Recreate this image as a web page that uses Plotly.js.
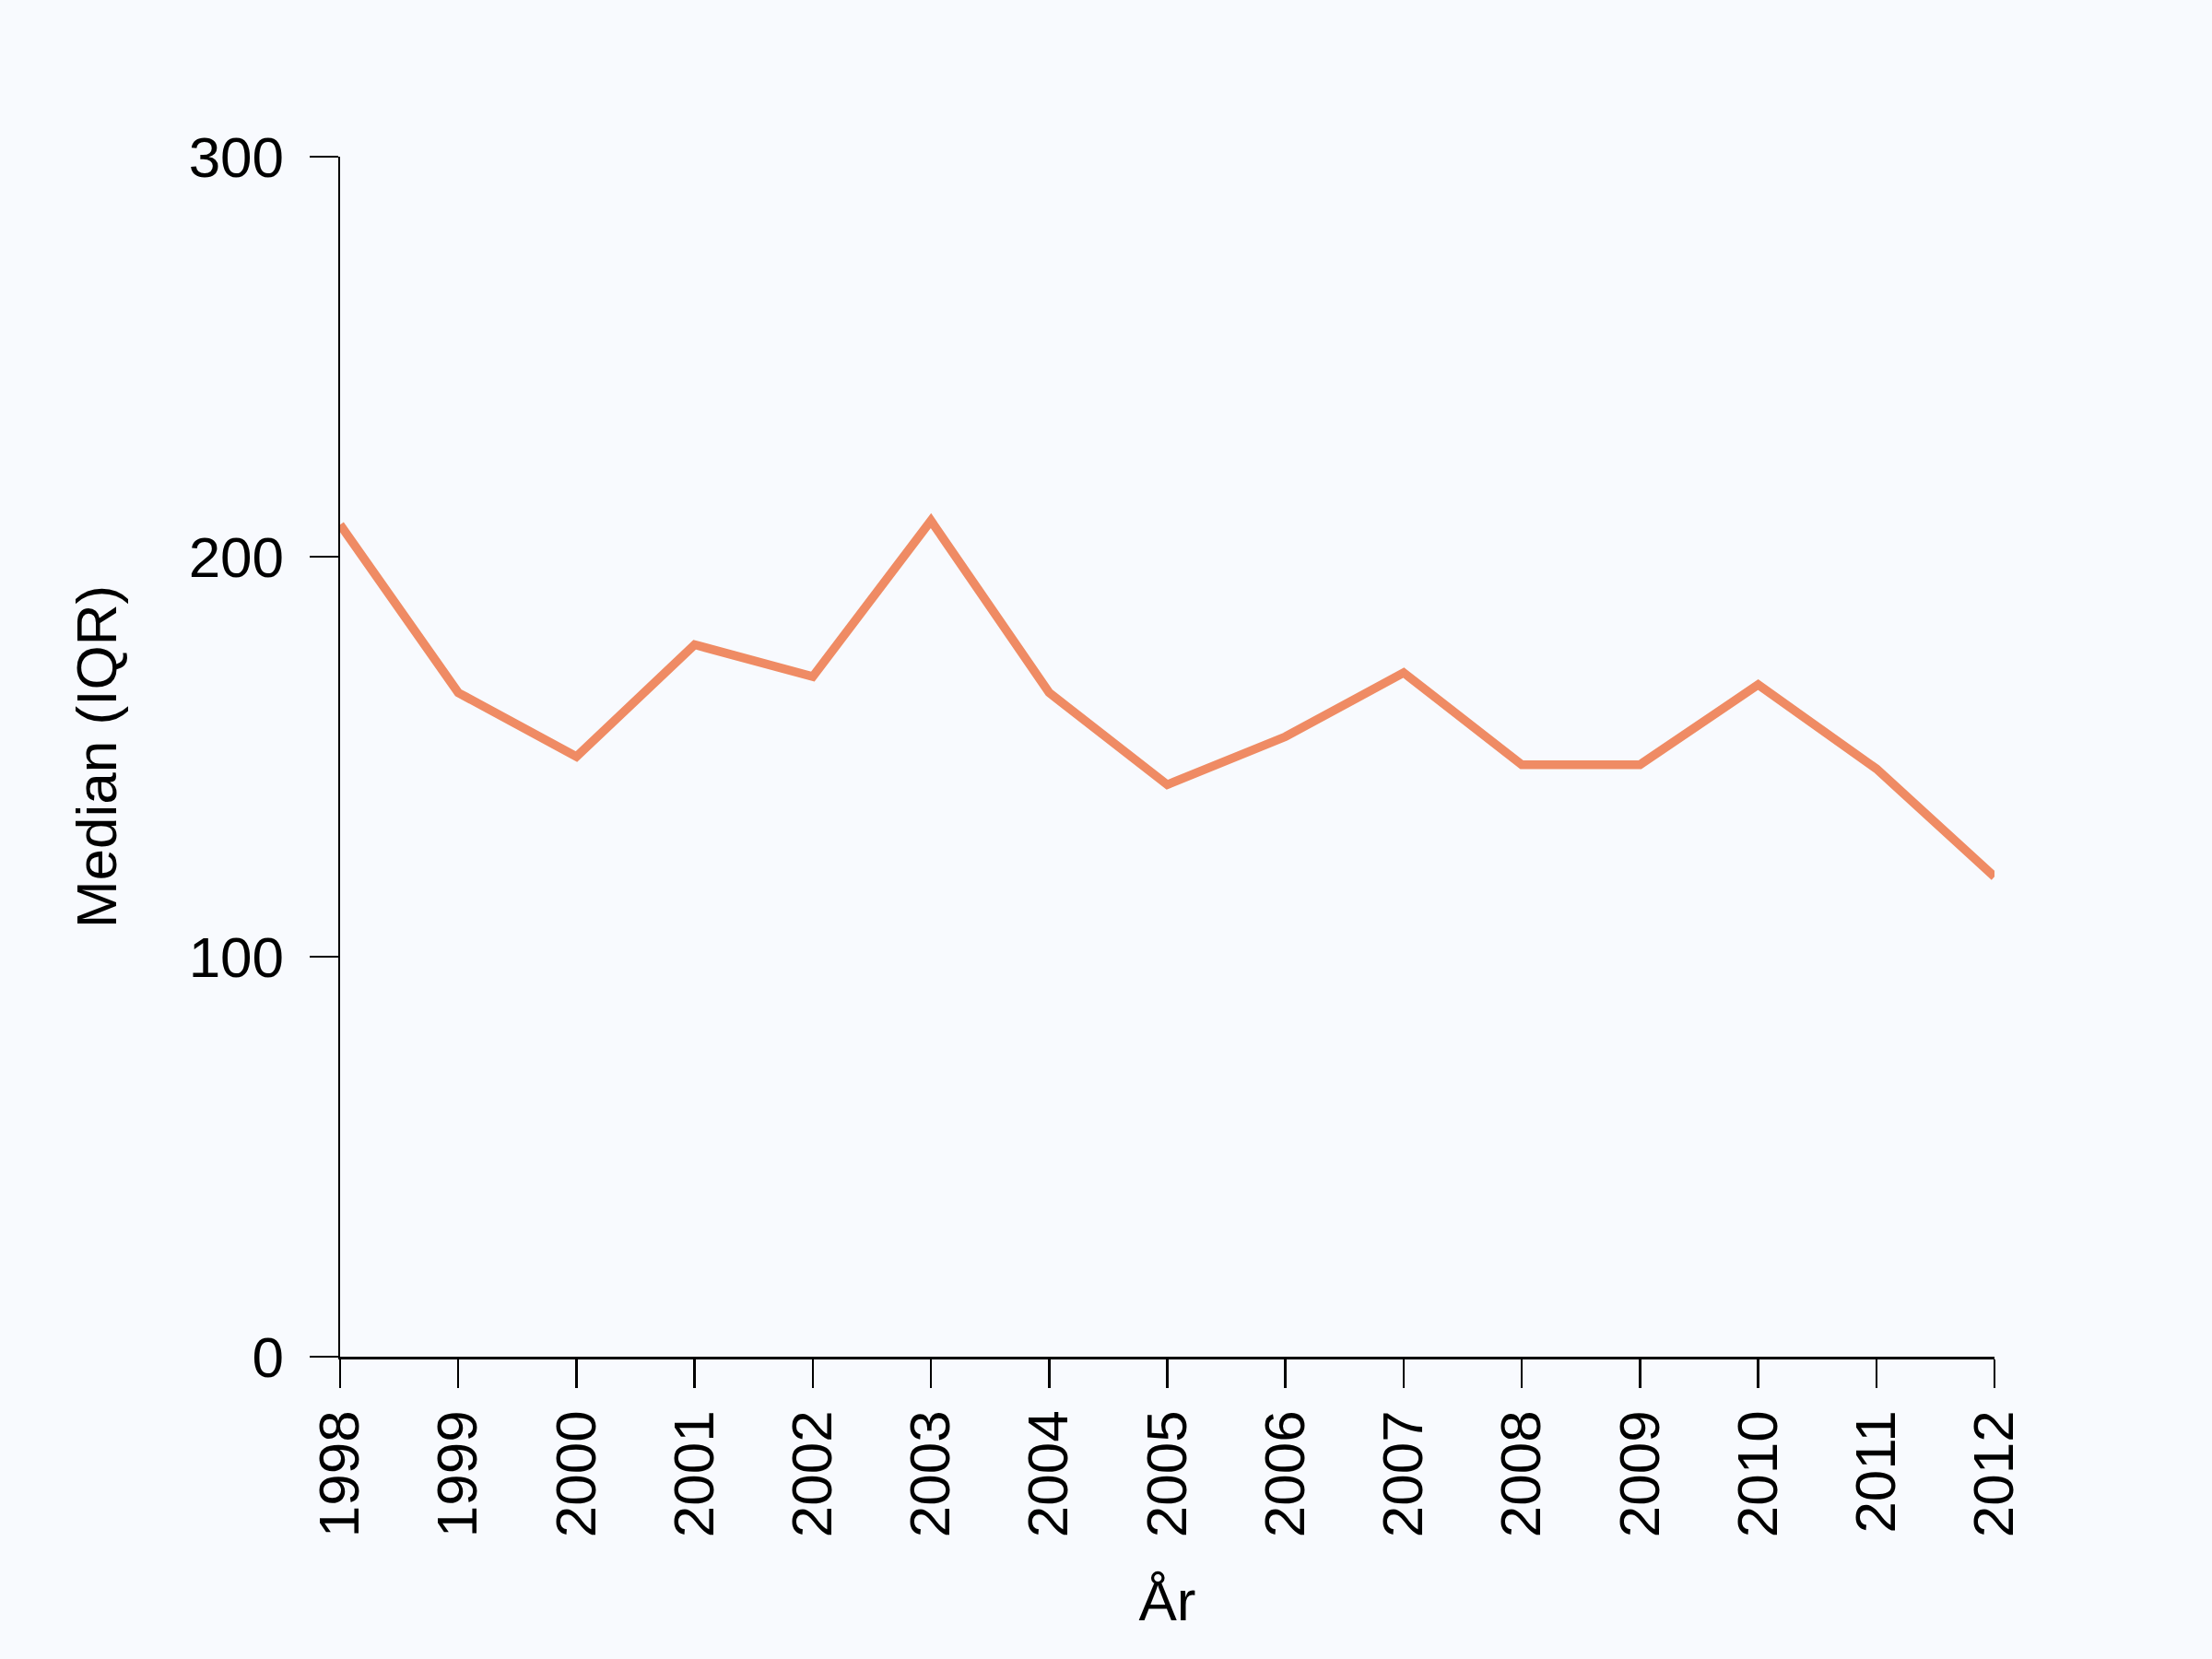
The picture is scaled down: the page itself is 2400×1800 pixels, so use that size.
<!DOCTYPE html>
<html>
<head>
<meta charset="utf-8">
<script src="https://cdn.plot.ly/plotly-3.0.1.min.js"></script>
<style>html,body{margin:0;padding:0;background:#F8FAFE;}</style>
</head>
<body>
<div id="chart" style="width:2400px;height:1800px;"></div>
<script>
const years = [1998,1999,2000,2001,2002,2003,2004,2005,2006,2007,2008,2009,2010,2011,2012];
const medians = [208,166,150,178,170,209,166,143,155,171,148,148,168,147,120];
const yTicks = [0,100,200,300];

const trace = {
  x: years, y: medians, type: 'scatter', mode: 'lines',
  line: {color: '#EF8B64', width: 9.5},
  hoverinfo: 'skip'
};
const font = {family: 'Liberation Sans, Arial, sans-serif', size: 62, color: '#000'};
const layout = {
  width: 2400, height: 1800,
  paper_bgcolor: '#F8FAFE', plot_bgcolor: '#F8FAFE',
  margin: {l: 369, r: 236, t: 170, b: 328},
  font: font,
  showlegend: false,
  xaxis: {
    range: [1998, 2012], tickvals: years, ticktext: years.map(String),
    tickangle: -90, ticks: 'outside', ticklen: 31, tickwidth: 2.5, tickcolor: '#000',
    showline: true, linecolor: '#000', linewidth: 2.5, showgrid: false, zeroline: false,
    tickfont: font,
    title: {text: 'År', font: font, standoff: 48}
  },
  yaxis: {
    range: [0, 300], tickvals: yTicks, ticktext: yTicks.map(String),
    ticks: 'outside', ticklen: 31, tickwidth: 2.5, tickcolor: '#000',
    ticklabelstandoff: 15,
    showline: true, linecolor: '#000', linewidth: 2.5, showgrid: false, zeroline: false,
    tickfont: font,
    title: {text: 'Median (IQR)', font: font, standoff: 58}
  }
};
Plotly.newPlot('chart', [trace], layout, {displayModeBar: false, staticPlot: true});
</script>
</body>
</html>
